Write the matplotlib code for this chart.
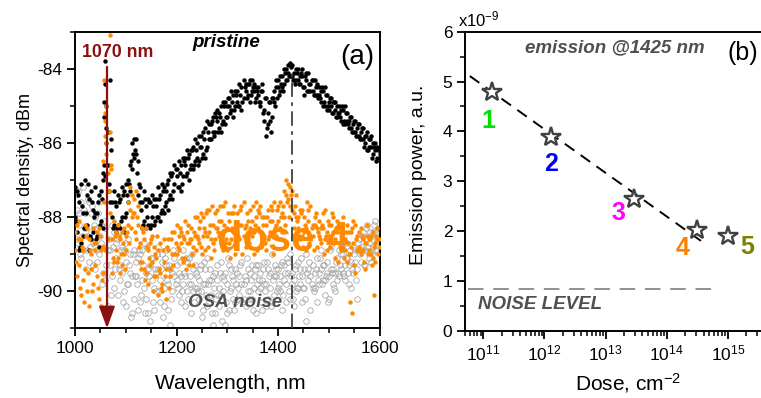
import numpy as np
import matplotlib.pyplot as plt
from matplotlib.ticker import MultipleLocator, LogLocator, NullFormatter

plt.rcParams['font.family'] = ['Liberation Sans', 'DejaVu Sans']
plt.rcParams['axes.unicode_minus'] = False
plt.rcParams['mathtext.fontset'] = 'custom'
plt.rcParams['mathtext.rm'] = 'Liberation Sans'
plt.rcParams['mathtext.it'] = 'Liberation Sans:italic'
plt.rcParams['mathtext.bf'] = 'Liberation Sans:bold'

# ---- (a) OSA spectra ----
wavelength_a = [
    1000, 1004, 1008, 1012, 1016, 1020, 1024, 1028, 1032, 1036,
    1040, 1044, 1048, 1052, 1056, 1060, 1064, 1068, 1072, 1076,
    1080, 1084, 1088, 1092, 1096, 1100, 1104, 1108, 1112, 1116,
    1120, 1124, 1128, 1132, 1136, 1140, 1144, 1148, 1152, 1156,
    1160, 1164, 1168, 1172, 1176, 1180, 1184, 1188, 1192, 1196,
    1200, 1204, 1208, 1212, 1216, 1220, 1224, 1228, 1232, 1236,
    1240, 1244, 1248, 1252, 1256, 1260, 1264, 1268, 1272, 1276,
    1280, 1284, 1288, 1292, 1296, 1300, 1304, 1308, 1312, 1316,
    1320, 1324, 1328, 1332, 1336, 1340, 1344, 1348, 1352, 1356,
    1360, 1364, 1368, 1372, 1376, 1380, 1384, 1388, 1392, 1396,
    1400, 1404, 1408, 1412, 1416, 1420, 1424, 1428, 1432, 1436,
    1440, 1444, 1448, 1452, 1456, 1460, 1464, 1468, 1472, 1476,
    1480, 1484, 1488, 1492, 1496, 1500, 1504, 1508, 1512, 1516,
    1520, 1524, 1528, 1532, 1536, 1540, 1544, 1548, 1552, 1556,
    1560, 1564, 1568, 1572, 1576, 1580, 1584, 1588, 1592, 1596,
    1600]
wavelength_b = [
    1002, 1006, 1010, 1014, 1018, 1022, 1026, 1030, 1034, 1038,
    1042, 1046, 1050, 1054, 1058, 1062, 1066, 1070, 1074, 1078,
    1082, 1086, 1090, 1094, 1098, 1102, 1106, 1110, 1114, 1118,
    1122, 1126, 1130, 1134, 1138, 1142, 1146, 1150, 1154, 1158,
    1162, 1166, 1170, 1174, 1178, 1182, 1186, 1190, 1194, 1198,
    1202, 1206, 1210, 1214, 1218, 1222, 1226, 1230, 1234, 1238,
    1242, 1246, 1250, 1254, 1258, 1262, 1266, 1270, 1274, 1278,
    1282, 1286, 1290, 1294, 1298, 1302, 1306, 1310, 1314, 1318,
    1322, 1326, 1330, 1334, 1338, 1342, 1346, 1350, 1354, 1358,
    1362, 1366, 1370, 1374, 1378, 1382, 1386, 1390, 1394, 1398,
    1402, 1406, 1410, 1414, 1418, 1422, 1426, 1430, 1434, 1438,
    1442, 1446, 1450, 1454, 1458, 1462, 1466, 1470, 1474, 1478,
    1482, 1486, 1490, 1494, 1498, 1502, 1506, 1510, 1514, 1518,
    1522, 1526, 1530, 1534, 1538, 1542, 1546, 1550, 1554, 1558,
    1562, 1566, 1570, 1574, 1578, 1582, 1586, 1590, 1594, 1598]

pristine_a = [
    -87.2, -88.4, -87.6, -88.7, -87.9, -87.0, -88.2, -87.5, -88.6, -87.8,
    -87.9, -88.5, -87.4, -88.1, -87.0, -84.4, -86.6, -84.3, -87.6, -88.2,
    -87.7, -88.2, -87.5, -88.0, -87.3, -87.9, -87.0, -86.6, -86.0, -86.4,
    -85.9, -86.5, -87.2, -87.6, -88.1, -87.7, -88.2, -87.6, -88.0, -87.5,
    -87.5, -88.0, -87.4, -87.8, -87.2, -87.6, -87.0, -87.4, -86.8, -87.1,
    -86.7, -87.2, -86.6, -86.9, -86.4, -86.8, -86.3, -86.6, -86.1, -86.5,
    -86.0, -86.5, -85.8, -86.3, -85.6, -86.1, -85.5, -85.9, -85.3, -85.7,
    -85.1, -85.6, -85.0, -85.4, -84.9, -85.3, -84.8, -85.1, -84.7, -85.0,
    -84.6, -85.0, -84.5, -84.8, -84.4, -84.7, -84.3, -84.6, -84.4, -84.8,
    -84.5, -84.9, -84.6, -85.1, -84.8, -85.5, -84.9, -85.3, -84.6, -84.5,
    -84.3, -84.6, -84.2, -84.4, -84.0, -83.9, -84.2, -83.9, -84.1, -84.3,
    -84.0, -84.4, -84.2, -84.5, -84.3, -84.1, -84.6, -84.3, -84.7, -84.4,
    -84.5, -84.9, -84.6, -85.0, -84.7, -85.1, -84.8, -85.2, -84.9, -85.0,
    -85.0, -85.4, -85.1, -85.5, -85.2, -85.6, -85.3, -85.7, -85.4, -85.6,
    -85.5, -85.9, -85.6, -86.0, -85.7, -86.1, -85.8, -86.3, -86.0, -86.4,
    -86.3]
pristine_b = [
    -88.1, -87.4, -88.8, -87.7, -88.3, -87.9, -87.1, -88.5, -87.6, -88.0,
    -88.6, -87.6, -88.2, -87.5, -86.6, -85.6, -87.1, -86.2, -88.3, -87.6,
    -88.3, -87.6, -88.1, -87.4, -88.0, -87.4, -87.1, -86.5, -86.3, -86.2,
    -86.8, -87.1, -87.8, -88.2, -87.5, -88.0, -87.6, -88.2, -87.7, -88.1,
    -88.0, -87.5, -87.9, -87.3, -87.7, -87.1, -87.5, -86.9, -87.3, -86.7,
    -87.2, -86.8, -87.1, -86.5, -86.9, -86.4, -86.7, -86.2, -86.6, -86.2,
    -86.6, -86.1, -86.4, -85.9, -86.2, -85.7, -85.9, -85.4, -85.8, -85.3,
    -85.7, -85.3, -85.5, -85.0, -85.3, -84.8, -85.2, -84.9, -85.1, -84.7,
    -85.0, -84.7, -84.9, -84.5, -84.8, -84.4, -84.7, -84.5, -84.9, -84.6,
    -84.9, -84.6, -85.2, -84.8, -85.6, -84.9, -85.7, -84.8, -85.0, -84.8,
    -84.7, -84.4, -84.6, -84.1, -84.3, -84.2, -83.95, -84.3, -84.4, -84.1,
    -84.4, -84.1, -84.5, -84.2, -84.6, -84.4, -84.3, -84.7, -84.5, -84.8,
    -84.8, -84.5, -84.9, -84.7, -85.0, -84.8, -85.2, -84.9, -85.3, -85.2,
    -85.3, -85.0, -85.4, -85.2, -85.5, -85.3, -85.7, -85.4, -85.8, -85.5,
    -85.9, -85.6, -86.1, -85.8, -86.2, -85.9, -86.4, -86.1, -86.5, -86.2]
pristine_c = [
    -88.0, -87.3, -88.9, -87.1, -88.5, -88.3, -87.4, -88.9, -87.3, -88.4,
    -87.2, -87.9, -88.8, -87.3, -88.3, -86.9, -85.7, -87.6, -88.0, -87.3,
    -88.4, -87.4, -88.3, -87.2, -88.4, -87.1, -87.6, -87.3, -86.7, -85.9,
    -86.3, -87.4, -87.6, -88.3, -87.3, -88.3, -87.5, -88.3, -87.4, -88.2,
    -87.7, -87.2, -88.1, -87.1, -87.9, -87.3, -87.8, -86.8, -87.5, -86.6,
    -86.9, -86.5, -87.3, -86.4, -86.6, -86.2, -87.0, -86.2, -86.7, -85.9,
    -86.4, -85.8, -86.1, -85.7, -86.4, -85.4, -85.9, -85.5, -85.7, -85.2,
    -85.4, -85.2, -85.7, -84.9, -85.5, -85.0, -85.0, -84.6, -85.3, -84.6,
    -84.9, -84.4, -85.1, -84.3, -84.6, -84.4, -84.9, -84.3, -84.6, -84.5,
    -84.7, -85.0, -84.4, -85.4, -85.8, -85.2, -85.4, -84.8, -84.9, -84.3,
    -84.5, -84.2, -84.5, -84.0, -84.3, -84.1, -83.85, -84.2, -84.3, -84.0,
    -84.3, -84.2, -84.0, -84.7, -84.1, -84.6, -84.4, -84.6, -84.3, -84.7,
    -84.7, -84.6, -85.0, -84.5, -85.1, -84.9, -85.0, -84.9, -85.1, -85.3,
    -85.2, -85.1, -85.5, -85.0, -85.4, -85.4, -85.6, -85.5, -85.7, -85.8,
    -85.8, -85.7, -85.9, -85.8, -86.2, -85.9, -86.1, -86.0, -86.2, -86.1,
    -86.5]

dose4_a = [
    -88.4, -89.6, -88.1, -90.1, -88.9, -89.4, -88.3, -90.4, -89.0, -89.8,
    -89.3, -88.4, -90.2, -88.9, -89.5, -85.4, -86.8, -85.7, -88.6, -89.2,
    -88.4, -89.1, -88.6, -89.3, -88.3, -88.9, -88.2, -87.8, -87.4, -87.9,
    -87.3, -88.2, -88.7, -89.2, -88.6, -89.5, -88.9, -89.3, -88.5, -89.6,
    -89.1, -90.1, -88.7, -89.8, -88.6, -90.2, -88.9, -89.4, -88.4, -89.0,
    -88.2, -88.9, -88.4, -89.2, -88.1, -88.7, -89.3, -88.3, -88.8, -88.0,
    -88.0, -88.7, -87.9, -88.5, -88.9, -87.8, -88.4, -89.1, -88.2, -88.6,
    -87.8, -88.5, -88.1, -88.9, -87.6, -88.3, -88.7, -87.9, -88.4, -89.0,
    -87.9, -88.6, -88.2, -87.6, -88.8, -88.1, -87.8, -88.5, -89.0, -88.0,
    -88.3, -87.7, -88.6, -88.0, -88.9, -87.8, -88.4, -88.1, -87.6, -88.5,
    -88.1, -87.6, -88.4, -87.3, -87.0, -87.5, -87.2, -87.8, -88.3, -87.4,
    -88.0, -88.6, -87.8, -88.4, -88.9, -88.1, -87.7, -88.5, -88.2, -88.8,
    -88.1, -88.7, -88.3, -87.8, -88.9, -88.2, -88.6, -88.0, -89.1, -88.4,
    -88.3, -88.9, -88.0, -88.6, -89.2, -88.4, -88.8, -88.1, -89.5, -88.5,
    -88.4, -89.0, -88.6, -89.4, -88.2, -88.9, -88.5, -89.1, -88.7, -88.3,
    -88.6]
dose4_b = [
    -89.2, -88.6, -89.9, -88.8, -90.3, -88.5, -89.5, -88.9, -90.0, -88.7,
    -88.7, -89.9, -88.5, -89.7, -87.6, -86.0, -87.3, -86.6, -89.1, -88.5,
    -89.2, -88.5, -89.0, -88.7, -89.4, -88.4, -88.7, -88.3, -87.9, -88.4,
    -88.0, -88.8, -89.4, -88.4, -89.7, -88.8, -89.1, -88.6, -90.0, -89.0,
    -88.5, -89.4, -89.9, -88.9, -89.6, -88.8, -89.9, -88.6, -89.3, -88.7,
    -88.8, -88.3, -89.1, -88.6, -89.4, -88.2, -88.6, -89.0, -88.4, -88.9,
    -88.6, -88.1, -89.0, -88.3, -87.9, -88.8, -88.2, -87.7, -88.9, -88.3,
    -88.4, -87.7, -88.8, -88.2, -88.6, -87.9, -89.1, -88.3, -87.7, -88.6,
    -88.5, -87.8, -89.0, -88.3, -87.9, -88.7, -88.4, -87.7, -88.2, -88.9,
    -87.9, -88.8, -88.2, -88.7, -88.0, -88.5, -87.7, -89.0, -88.3, -87.8,
    -88.6, -88.0, -87.7, -88.2, -87.6, -88.0, -87.4, -88.5, -87.7, -88.1,
    -88.5, -87.9, -88.8, -88.2, -87.6, -88.7, -88.3, -88.9, -87.9, -88.4,
    -88.6, -88.2, -89.0, -88.5, -88.1, -88.8, -87.9, -88.7, -88.3, -89.2,
    -88.8, -88.2, -89.1, -88.4, -88.7, -89.0, -88.3, -89.3, -88.6, -88.9,
    -88.9, -88.5, -89.2, -88.7, -89.0, -88.6, -89.3, -88.8, -88.5, -89.0]
dose4_c = [
    -88.9, -88.2, -89.3, -88.6, -89.7, -88.2, -90.0, -88.6, -89.4, -88.3,
    -88.9, -89.6, -88.3, -90.4, -88.8, -88.9, -88.6, -87.9, -89.5, -88.1,
    -88.9, -88.2, -89.5, -88.4, -89.0, -88.5, -87.6, -87.2, -88.0, -87.5,
    -88.6, -87.7, -89.2, -88.3, -89.4, -88.3, -89.8, -88.7, -89.2, -88.8,
    -89.6, -88.9, -89.5, -90.0, -89.2, -89.4, -88.6, -89.6, -89.0, -88.4,
    -89.0, -88.5, -88.7, -88.5, -89.1, -88.4, -88.7, -88.6, -89.3, -88.5,
    -88.5, -88.3, -88.8, -88.0, -88.4, -88.5, -87.8, -88.6, -88.7, -87.9,
    -88.3, -88.1, -88.6, -87.7, -88.7, -88.9, -88.1, -88.6, -87.9, -88.3,
    -88.4, -88.2, -87.7, -88.5, -88.2, -88.6, -88.3, -88.1, -88.4, -87.6,
    -87.8, -88.4, -88.0, -88.5, -88.2, -88.6, -88.1, -87.8, -88.4, -88.2,
    -87.7, -88.3, -87.9, -88.0, -87.4, -87.1, -87.7, -87.3, -87.9, -88.0,
    -88.3, -87.8, -88.5, -88.0, -88.3, -87.8, -88.6, -88.2, -88.0, -88.3,
    -88.5, -88.3, -87.9, -88.6, -88.4, -88.5, -88.2, -88.4, -88.6, -88.1,
    -88.7, -88.4, -88.6, -88.9, -88.2, -89.0, -88.4, -88.7, -88.2, -88.9,
    -88.8, -88.3, -88.9, -88.7, -88.5, -88.6, -89.0, -88.4, -89.2, -88.6,
    -88.8]

noise_a = [
    -87.4, -88.6, -87.9, -89.1, -87.2, -88.3, -88.9, -87.6, -88.4, -89.3,
    -88.0, -89.2, -87.6, -88.7, -89.5, -88.3, -90.4, -88.9, -89.6, -88.4,
    -89.1, -88.5, -89.7, -88.8, -90.0, -89.2, -88.6, -89.5, -90.6, -88.9,
    -89.2, -90.5, -89.0, -89.7, -88.7, -90.2, -89.4, -90.8, -89.1, -89.9,
    -89.5, -88.8, -90.3, -89.2, -89.9, -88.9, -90.5, -89.4, -90.0, -89.1,
    -89.3, -90.1, -89.6, -88.9, -90.4, -89.2, -89.8, -90.6, -89.4, -89.9,
    -89.6, -90.2, -89.3, -90.5, -89.8, -89.1, -90.3, -89.7, -90.9, -89.5,
    -89.7, -90.4, -89.2, -90.0, -89.5, -90.6, -89.3, -89.9, -90.2, -89.4,
    -89.5, -90.1, -89.2, -89.8, -90.4, -89.4, -90.0, -89.3, -89.9, -90.6,
    -89.3, -89.9, -90.5, -89.2, -89.8, -90.2, -89.5, -89.0, -90.1, -89.6,
    -89.4, -90.0, -89.2, -89.7, -90.3, -89.5, -89.0, -89.8, -90.4, -89.3,
    -89.2, -89.8, -90.3, -89.4, -89.0, -89.7, -90.5, -89.3, -89.9, -89.1,
    -89.5, -88.9, -89.7, -90.1, -89.2, -89.6, -88.8, -89.4, -90.0, -89.1,
    -88.9, -89.4, -89.0, -89.7, -88.7, -89.3, -89.9, -88.8, -89.2, -90.2,
    -88.6, -89.2, -88.4, -88.9, -88.2, -89.1, -88.5, -88.8, -88.1, -88.6,
    -88.4]
noise_b = [
    -88.1, -87.3, -89.0, -88.5, -87.8, -89.4, -87.5, -88.8, -87.7, -88.2,
    -88.9, -87.9, -88.5, -89.8, -88.1, -89.3, -88.6, -90.1, -88.8, -89.4,
    -88.6, -89.4, -88.9, -90.3, -88.7, -89.8, -89.3, -90.7, -89.0, -89.6,
    -89.8, -88.9, -90.1, -89.3, -90.6, -88.8, -89.6, -89.1, -90.3, -89.4,
    -89.0, -90.0, -89.4, -90.7, -89.1, -89.7, -89.3, -90.2, -88.9, -89.8,
    -89.9, -89.2, -90.0, -89.5, -89.1, -90.2, -89.6, -89.0, -90.3, -89.5,
    -90.0, -89.4, -90.7, -89.2, -90.1, -89.8, -89.4, -90.6, -89.9, -90.2,
    -90.1, -89.5, -90.8, -89.7, -90.3, -89.1, -90.0, -89.6, -90.5, -89.8,
    -89.9, -89.3, -90.3, -89.6, -89.1, -90.2, -89.7, -90.5, -89.4, -89.8,
    -89.7, -90.3, -89.4, -90.0, -89.2, -89.6, -90.4, -89.7, -89.3, -90.0,
    -89.8, -89.3, -90.1, -89.5, -89.1, -90.0, -89.6, -90.2, -89.4, -89.9,
    -89.6, -89.1, -89.9, -90.2, -89.5, -89.2, -89.8, -90.0, -89.4, -89.7,
    -89.1, -89.8, -89.3, -89.6, -90.3, -88.9, -89.5, -89.9, -89.2, -89.5,
    -89.3, -88.8, -89.6, -89.1, -89.5, -88.9, -89.4, -89.0, -89.7, -88.7,
    -89.0, -88.5, -89.3, -88.3, -88.8, -88.4, -89.0, -88.2, -88.7, -88.3]
noise_c = [
    -88.8, -87.8, -88.2, -87.6, -88.9, -87.9, -88.5, -89.2, -87.9, -88.7,
    -89.4, -88.3, -89.0, -88.2, -88.8, -89.7, -88.9, -89.3, -88.2, -89.9,
    -88.7, -90.1, -89.3, -89.5, -88.9, -90.4, -89.8, -89.0, -89.6, -90.2,
    -89.6, -89.1, -90.3, -88.9, -89.9, -89.5, -90.6, -89.3, -89.7, -90.5,
    -90.0, -89.4, -89.7, -89.0, -90.4, -89.3, -89.8, -90.9, -89.5, -89.6,
    -89.7, -89.5, -90.3, -89.8, -89.6, -90.0, -89.1, -89.8, -90.0, -89.3,
    -89.9, -89.7, -90.0, -89.8, -89.4, -90.4, -89.7, -90.1, -89.6, -90.6,
    -89.3, -89.9, -90.1, -89.6, -90.9, -89.8, -90.5, -89.4, -89.7, -90.3,
    -90.2, -89.6, -89.8, -90.2, -89.7, -90.0, -89.5, -90.2, -89.6, -89.3,
    -90.0, -89.5, -89.7, -89.8, -90.4, -89.4, -89.9, -90.3, -89.6, -89.4,
    -89.9, -89.6, -90.5, -89.3, -89.8, -89.2, -90.2, -89.5, -89.7, -90.0,
    -89.9, -89.4, -89.6, -89.9, -90.8, -89.4, -89.6, -89.9, -89.5, -90.3,
    -89.8, -89.4, -89.3, -89.7, -89.5, -90.2, -89.4, -89.8, -89.5, -89.7,
    -89.6, -89.0, -89.5, -89.3, -89.1, -89.8, -89.2, -89.5, -88.9, -89.4,
    -88.9, -88.8, -88.9, -89.3, -88.6, -88.7, -89.2, -88.4, -88.9, -88.9,
    -88.7]

# extra points around the 1070 nm line and a few outliers
spike_wl = [1055, 1057, 1058, 1059, 1061, 1062, 1066, 1070]
spike_pristine = [-86.8, -85.3, -84.9, -83.8, -85.0, -86.0, -87.3, -85.9]
dose4_extra_wl = [1056, 1058, 1059, 1060, 1061, 1062, 1069, 1070, 1541, 1545, 1590]
dose4_extra = [-86.5, -84.3, -85.2, -85.8, -86.3, -85.0, -83.1, -86.7, -90.3, -90.6, -90.1]

laser_wl = 1063
laser_top = -83.95
peak_wl = 1427
peak_top = -84.05

# ---- (b) emission power vs dose ----
dose = [1.36e11, 1.30e12, 2.95e13, 3.1e14, 1.0e15]
power = [4.78, 3.89, 2.65, 2.03, 1.91]
sample_names = ['1', '2', '3', '4', '5']
sample_colors = ['#00e000', '#0000ff', '#ff00ff', '#ff8000', '#808000']
name_dose = [1.22e11, 1.26e12, 1.6e13, 1.8e14, 2.05e15]
name_power = [4.21, 3.35, 2.37, 1.65, 1.67]
fit_dose = [6.0e10, 4.5e14]
fit_power = [5.11, 1.72]
noise_dose = [5.5e10, 7.3e14]
noise_level = [0.83, 0.83]

orange = '#ff8a00'
grey_txt = '#505050'

fig = plt.figure(figsize=(7.61, 3.98), dpi=100)
ax1 = fig.add_axes([0.0986, 0.1751, 0.4001, 0.7452])
ax2 = fig.add_axes([0.6110, 0.1691, 0.4016, 0.7513])

# panel (a)
ax1.text(1409, -88.62, 'dose 4', fontsize=30, fontweight='bold', color=orange,
         ha='center', va='center', zorder=1)
noise_sets = ((wavelength_a, noise_a), (wavelength_b, noise_b), (wavelength_a, noise_c))
pristine_sets = ((wavelength_a, pristine_a), (wavelength_b, pristine_b),
                 (wavelength_a, pristine_c), (spike_wl, spike_pristine))
dose4_sets = ((wavelength_a, dose4_a), (wavelength_b, dose4_b),
              (wavelength_a, dose4_c), (dose4_extra_wl, dose4_extra))
for xs, ys in noise_sets:
    ax1.plot(xs, ys, 'o', ls='none', ms=4.0, mfc='none', mec='#a8a8a8', mew=0.6, zorder=2)
for xs, ys in pristine_sets:
    ax1.plot(xs, ys, 'o', ls='none', ms=3.2, color='black', mew=0, zorder=3)
for xs, ys in dose4_sets:
    ax1.plot(xs, ys, 'o', ls='none', ms=3.2, color=orange, mew=0, zorder=4)

ax1.vlines(peak_wl, -91, peak_top, colors='#404040', lw=1.3,
           linestyles=(0, (8, 3, 2, 3)), zorder=5)
ax1.annotate('', xy=(laser_wl, -91.0), xytext=(laser_wl, laser_top),
             arrowprops=dict(arrowstyle='-|>,head_length=1.1,head_width=0.4',
                             color='#8b1010', lw=1.6, mutation_scale=12,
                             shrinkA=0, shrinkB=0), zorder=6)
ax1.text(1085, -83.57, '1070 nm', color='#8b1010', fontsize=12.8, fontweight='bold',
         ha='center', va='center')
ax1.text(1299, -83.3, 'pristine', fontsize=13.5, fontweight='bold', style='italic',
         ha='center', va='center')
ax1.text(1557, -83.68, '(a)', fontsize=20, ha='center', va='center')
ax1.text(1315, -90.3, 'OSA noise', fontsize=13.5, fontweight='bold', style='italic',
         color=grey_txt, ha='center', va='center', zorder=7)

ax1.set_xlim(1000, 1600)
ax1.set_ylim(-91, -83)
ax1.xaxis.set_major_locator(MultipleLocator(200))
ax1.xaxis.set_minor_locator(MultipleLocator(50))
ax1.yaxis.set_major_locator(MultipleLocator(2))
ax1.yaxis.set_minor_locator(MultipleLocator(1))
ax1.set_xlabel('Wavelength, nm', fontsize=15)
ax1.set_ylabel('Spectral density, dBm', fontsize=13)
ax1.xaxis.set_label_coords(0.51, -0.155)
ax1.yaxis.set_label_coords(-0.135, 0.5)

# panel (b)
ax2.plot(fit_dose, fit_power, color='black', lw=1.4, dashes=(6, 4))
ax2.plot(noise_dose, noise_level, color='#909090', lw=1.4, dashes=(8, 5))
ax2.plot(dose, power, '*', ls='none', ms=15, mfc='white', mec='#404040', mew=1.7)
for name, c, x, y in zip(sample_names, sample_colors, name_dose, name_power):
    ax2.text(x, y, name, color=c, fontsize=18, fontweight='bold', ha='center', va='center')
ax2.text(0.491, 0.9455, 'emission @1425 nm', transform=ax2.transAxes, fontsize=13.5,
         fontweight='bold', style='italic', color=grey_txt, ha='center', va='center')
ax2.text(0.910, 0.928, '(b)', transform=ax2.transAxes, fontsize=18, ha='center', va='center')
ax2.text(8.2e10, 0.52, 'NOISE LEVEL', fontsize=13.5, fontweight='bold', style='italic',
         color=grey_txt, ha='left', va='center')
ax2.text(-0.023, 1.016, r'x10$^{\mathregular{-9}}$', transform=ax2.transAxes,
         fontsize=12, ha='left', va='baseline')

ax2.set_xscale('log')
ax2.set_xlim(5e10, 5e15)
ax2.set_ylim(0, 6)
ax2.xaxis.set_major_locator(LogLocator(base=10, numticks=20))
ax2.xaxis.set_minor_locator(LogLocator(base=10, subs=np.arange(2, 10), numticks=20))
ax2.xaxis.set_minor_formatter(NullFormatter())
ax2.yaxis.set_major_locator(MultipleLocator(1))
ax2.yaxis.set_minor_locator(MultipleLocator(0.5))
ax2.set_xlabel('Dose, cm$^{\\mathregular{-2}}$', fontsize=15)
ax2.set_ylabel('Emission power, a.u.', fontsize=14)
ax2.xaxis.set_label_coords(0.533, -0.135)
ax2.yaxis.set_label_coords(-0.124, 0.52)

for ax in (ax1, ax2):
    for sp in ax.spines.values():
        sp.set_linewidth(1.4)
    ax.tick_params(which='major', direction='out', length=6, width=1.3, labelsize=12.5, pad=3)
    ax.tick_params(which='minor', direction='out', length=3.5, width=1.1)

fig.savefig('out.png', dpi=100)
